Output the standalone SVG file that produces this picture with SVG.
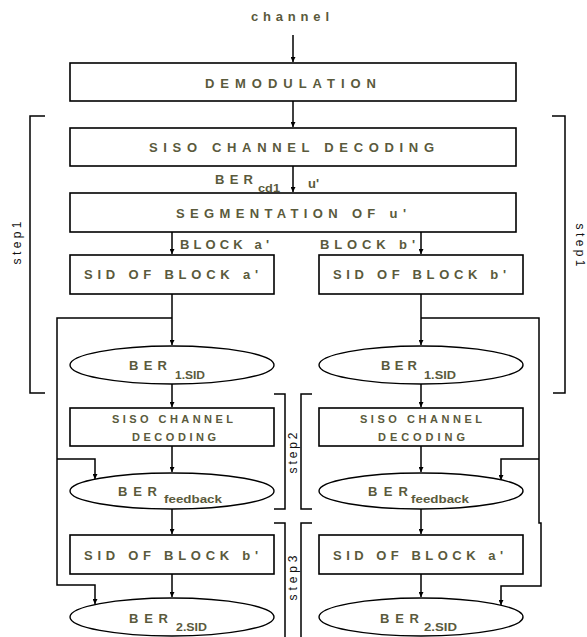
<svg xmlns="http://www.w3.org/2000/svg" width="587" height="637" viewBox="0 0 587 637">
<defs>
<marker id="arr" viewBox="0 0 6 6" refX="6" refY="3" markerWidth="5" markerHeight="5" markerUnits="userSpaceOnUse" orient="auto">
<path d="M0,0 L6,3 L0,6 z" fill="#000"/>
</marker>
<style>
.box{fill:#fff;stroke:#000;stroke-width:1.6}
.ell{fill:#fff;stroke:#000;stroke-width:1.4}
.ln{fill:none;stroke:#000;stroke-width:1.5}
.br{fill:none;stroke:#000;stroke-width:1.5}
.t{font-family:"Liberation Sans",Arial,sans-serif;font-weight:bold;font-size:13px;fill:#5a5a3c}
.s{font-size:11px}
.sub{font-family:"Liberation Sans",Arial,sans-serif;font-weight:bold;font-size:10px;fill:#5a5a3c}
.st{font-family:"Liberation Sans",Arial,sans-serif;font-size:12px;fill:#111}
</style>
</defs>
<rect width="587" height="637" fill="#fff"/>

<g id="connectors">
<path class="ln" d="M293 35 V62" marker-end="url(#arr)"/>
<path class="ln" d="M293 101 V127" marker-end="url(#arr)"/>
<path class="ln" d="M293 166 V192" marker-end="url(#arr)"/>
<path class="ln" d="M172 232 V254" marker-end="url(#arr)"/>
<path class="ln" d="M421 232 V254" marker-end="url(#arr)"/>
<path class="ln" d="M172 294 V345" marker-end="url(#arr)"/>
<path class="ln" d="M421 294 V345" marker-end="url(#arr)"/>
<path class="ln" d="M172 318 H57 V585 H95 V604" marker-end="url(#arr)"/>
<path class="ln" d="M57 459 H95 V479" marker-end="url(#arr)"/>
<path class="ln" d="M421 318 H539 V523 H541 V586 H501 V605" marker-end="url(#arr)"/>
<path class="ln" d="M539 459 H501 V480" marker-end="url(#arr)"/>
<path class="ln" d="M172 384 V407" marker-end="url(#arr)"/>
<path class="ln" d="M421 384 V407" marker-end="url(#arr)"/>
<path class="ln" d="M172 446 V472" marker-end="url(#arr)"/>
<path class="ln" d="M421 446 V472" marker-end="url(#arr)"/>
<path class="ln" d="M172 509 V534" marker-end="url(#arr)"/>
<path class="ln" d="M421 509 V534" marker-end="url(#arr)"/>
<path class="ln" d="M172 574 V597" marker-end="url(#arr)"/>
<path class="ln" d="M421 574 V597" marker-end="url(#arr)"/>
</g>

<g id="brackets">
<path class="br" d="M45 116 H30 V393 H45"/>
<path class="br" d="M552 116 H565 V393 H553"/>
<path class="br" d="M274 394 H285 V509 H274"/>
<path class="br" d="M312 394 H301 V509 H312"/>
<path class="br" d="M274 523 H285 V640"/>
<path class="br" d="M312 523 H301 V640"/>
<text class="st" transform="translate(21 243) rotate(-90)" text-anchor="middle" textLength="43" lengthAdjust="spacing">step1</text>
<text class="st" transform="translate(576 245) rotate(90)" text-anchor="middle" textLength="43" lengthAdjust="spacing">step1</text>
<text class="st" transform="translate(297 453) rotate(-90)" text-anchor="middle" textLength="41" lengthAdjust="spacing">step2</text>
<text class="st" transform="translate(297 578) rotate(-90)" text-anchor="middle" textLength="45" lengthAdjust="spacing">step3</text>
</g>

<g id="channel">
<text class="t" x="251" y="21" textLength="78" lengthAdjust="spacing">channel</text>
</g>

<g id="demodulation">
<rect class="box" x="70" y="63" width="446" height="38"/>
<text class="t" x="205" y="87.5" textLength="171" lengthAdjust="spacing">DEMODULATION</text>
</g>

<g id="siso-decoding">
<rect class="box" x="70" y="128" width="446" height="38"/>
<text class="t" x="149" y="152" textLength="285" lengthAdjust="spacing">SISO  CHANNEL DECODING</text>
</g>

<g id="ber-cd1">
<text class="t" x="215" y="184" textLength="38" lengthAdjust="spacing">BER</text>
<text class="sub" x="258" y="192" textLength="22" lengthAdjust="spacingAndGlyphs">cd1</text>
<text class="t" x="308" y="188">u'</text>
</g>

<g id="segmentation">
<rect class="box" x="70" y="193" width="446" height="39"/>
<text class="t" x="176" y="218" textLength="230" lengthAdjust="spacing">SEGMENTATION OF u'</text>
</g>

<g id="block-labels">
<text class="t" x="180" y="249" textLength="89" lengthAdjust="spacing">BLOCK a'</text>
<text class="t" x="320" y="249" textLength="95" lengthAdjust="spacing">BLOCK b'</text>
</g>

<g id="sid-a1">
<rect class="box" x="70" y="255" width="204" height="39"/>
<text class="t" x="84" y="279" textLength="174" lengthAdjust="spacing">SID OF BLOCK a'</text>
</g>

<g id="sid-b1">
<rect class="box" x="319" y="255" width="204" height="39"/>
<text class="t" x="333" y="279" textLength="173" lengthAdjust="spacing">SID OF BLOCK b'</text>
</g>

<g id="ber-1sid-left">
<ellipse class="ell" cx="172" cy="365" rx="102" ry="19"/>
<text class="t" x="129" y="369.5" textLength="38" lengthAdjust="spacing">BER</text>
<text class="sub" x="175" y="379" textLength="30" lengthAdjust="spacingAndGlyphs">1.SID</text>
</g>

<g id="ber-1sid-right">
<ellipse class="ell" cx="421" cy="365" rx="102" ry="19"/>
<text class="t" x="381" y="369.5" textLength="36" lengthAdjust="spacing">BER</text>
<text class="sub" x="424" y="379" textLength="32" lengthAdjust="spacingAndGlyphs">1.SID</text>
</g>

<g id="siso-left">
<rect class="box" x="70" y="408" width="204" height="38"/>
<text class="t s" x="112" y="423" textLength="121" lengthAdjust="spacing">SISO CHANNEL</text>
<text class="t s" x="132" y="441" textLength="84" lengthAdjust="spacing">DECODING</text>
</g>

<g id="siso-right">
<rect class="box" x="319" y="408" width="204" height="38"/>
<text class="t s" x="360" y="423" textLength="122" lengthAdjust="spacing">SISO CHANNEL</text>
<text class="t s" x="378" y="441" textLength="87" lengthAdjust="spacing">DECODING</text>
</g>

<g id="ber-feedback-left">
<ellipse class="ell" cx="172" cy="491" rx="102" ry="18"/>
<text class="t" x="118" y="495.5" textLength="39" lengthAdjust="spacing">BER</text>
<text class="sub" x="164" y="503" textLength="58" lengthAdjust="spacingAndGlyphs">feedback</text>
</g>

<g id="ber-feedback-right">
<ellipse class="ell" cx="421" cy="491" rx="102" ry="18"/>
<text class="t" x="368" y="495.5" textLength="40" lengthAdjust="spacing">BER</text>
<text class="sub" x="411" y="503" textLength="58" lengthAdjust="spacingAndGlyphs">feedback</text>
</g>

<g id="sid-b2">
<rect class="box" x="70" y="535" width="204" height="39"/>
<text class="t" x="84" y="560" textLength="174" lengthAdjust="spacing">SID OF BLOCK b'</text>
</g>

<g id="sid-a2">
<rect class="box" x="319" y="535" width="204" height="39"/>
<text class="t" x="333" y="560" textLength="170" lengthAdjust="spacing">SID OF BLOCK a'</text>
</g>

<g id="ber-2sid-left">
<ellipse class="ell" cx="172" cy="617" rx="102" ry="19"/>
<text class="t" x="129" y="623" textLength="39" lengthAdjust="spacing">BER</text>
<text class="sub" x="176" y="631" textLength="31" lengthAdjust="spacingAndGlyphs">2.SID</text>
</g>

<g id="ber-2sid-right">
<ellipse class="ell" cx="421" cy="617" rx="102" ry="19"/>
<text class="t" x="380" y="623" textLength="39" lengthAdjust="spacing">BER</text>
<text class="sub" x="424" y="631" textLength="33" lengthAdjust="spacingAndGlyphs">2.SID</text>
</g>
</svg>
